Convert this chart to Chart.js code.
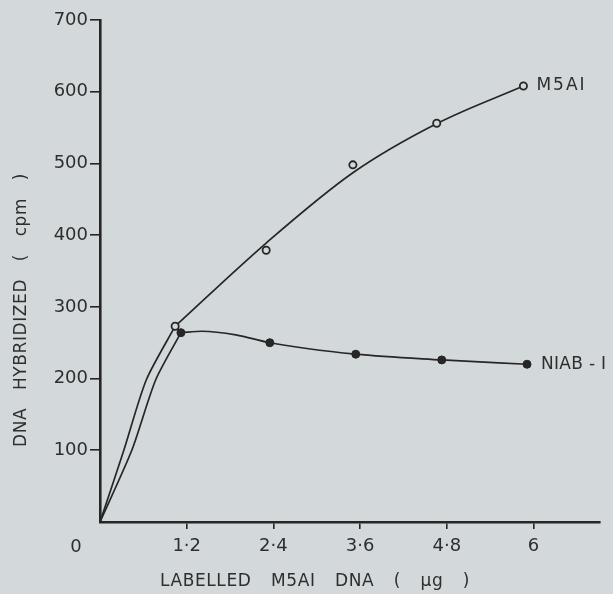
<!DOCTYPE html>
<html>
<head>
<meta charset="utf-8">
<script src="https://cdn.jsdelivr.net/npm/chart.js@4"></script>
<style>
  html, body { margin: 0; padding: 0; background: #d3d9db; }
  #wrap { width: 613px; height: 594px; position: relative; }
</style>
</head>
<body>
<div id="wrap"><canvas id="c" width="613" height="594"></canvas></div>
<script>
// ---- data ----
const xTickValues = [1.2, 2.4, 3.6, 4.8, 6];
const xTickLabels = ['1·2', '2·4', '3·6', '4·8', '6'];
const yTickValues = [100, 200, 300, 400, 500, 600, 700];
const yTickLabels = ['100', '200', '300', '400', '500', '600', '700'];

// measured points
const m5aiX = [1.04, 2.30, 3.50, 4.66, 5.86];
const m5aiY = [273, 379, 498, 556, 608];
const niabX = [1.12, 2.35, 3.54, 4.73, 5.91];
const niabY = [264, 250, 234, 226, 220];

// hand-drawn lines as traced in the picture: initial rise from the origin,
// then the fitted curve through the measured points
const m5aiRiseX = [0, 0.33, 0.64, 1.04];
const m5aiRiseY = [0, 100, 198, 273];
const m5aiCurveX = [1.04, 2.30, 3.50, 4.67, 5.86];
const m5aiCurveY = [273, 389, 487, 556, 608];
const niabRiseX = [0, 0.44, 0.77, 1.12];
const niabRiseY = [0, 100, 198, 264];
const niabCurveX = [1.12, 1.41, 1.88, 2.35, 3.54, 4.73, 5.91];
const niabCurveY = [264, 266, 261, 250, 234, 226, 220];

const seriesNames = ['M5AI', 'NIAB - I'];
const xTitle = 'LABELLED M5AI DNA ( µg )';
const yTitle = 'DNA HYBRIDIZED ( cpm )';
const originLabel = '0';

const ink = '#262626';
const textInk = '#2e2e2e';
const paper = '#d3d9db';
const FONT = '"DejaVu Sans", "Liberation Sans", sans-serif';

const toXY = (xs, ys) => xs.map((x, i) => ({ x: x, y: ys[i] }));

// text with normal letters and wide word gaps, fitted to a target width
function drawWords(ctx, text, x0, cy, targetW, size, ls) {
  ctx.font = size + 'px ' + FONT;
  ctx.letterSpacing = ls + 'px';
  ctx.wordSpacing = '0px';
  const w0 = ctx.measureText(text).width;
  const nSp = (text.match(/ /g) || []).length;
  const ws = nSp ? (targetW - w0) / nSp : 0;
  ctx.wordSpacing = ws + 'px';
  ctx.textAlign = 'left';
  ctx.textBaseline = 'middle';
  ctx.fillText(text, x0, cy);
  ctx.letterSpacing = '0px';
  ctx.wordSpacing = '0px';
}

const decor = {
  id: 'decor',
  beforeDraw(chart) {
    const ctx = chart.ctx;
    ctx.save();
    ctx.fillStyle = paper;
    ctx.fillRect(0, 0, chart.width, chart.height);
    ctx.restore();
  },
  afterDraw(chart) {
    const ctx = chart.ctx;
    const xs = chart.scales.x, ys = chart.scales.y;
    ctx.save();
    ctx.fillStyle = textInk;
    // origin label
    ctx.font = '18px ' + FONT;
    ctx.textAlign = 'center';
    ctx.textBaseline = 'middle';
    ctx.fillText(originLabel, xs.getPixelForValue(0) - 24, ys.getPixelForValue(0) + 25);
    // x title
    drawWords(ctx, xTitle, 160, 582, 310, 17, 0.6);
    // y title (rotated)
    ctx.save();
    ctx.translate(22, 310);
    ctx.rotate(-Math.PI / 2);
    drawWords(ctx, yTitle, -137, 0, 274, 17, 0.6);
    ctx.restore();
    // series labels next to last points
    const lm = m5aiX.length - 1, ln = niabX.length - 1;
    const mx = xs.getPixelForValue(m5aiX[lm]), my = ys.getPixelForValue(m5aiY[lm]);
    ctx.font = '17px ' + FONT;
    ctx.letterSpacing = '2px';
    ctx.textAlign = 'left';
    ctx.textBaseline = 'middle';
    ctx.fillText(seriesNames[0], mx + 13, my);
    const nx = xs.getPixelForValue(niabX[ln]), ny = ys.getPixelForValue(niabY[ln]);
    ctx.letterSpacing = '0.3px';
    ctx.fillText(seriesNames[1], nx + 14, ny);
    ctx.letterSpacing = '0px';
    ctx.restore();
  }
};

const lineDs = (label, xs, ys, mode, tension) => ({
  label: label,
  data: toXY(xs, ys),
  showLine: true,
  pointRadius: 0,
  borderColor: ink,
  borderWidth: 1.7,
  cubicInterpolationMode: mode,
  tension: tension,
  order: 1
});

new Chart(document.getElementById('c'), {
  type: 'scatter',
  data: {
    datasets: [
      {
        label: seriesNames[0] + ' points',
        data: toXY(m5aiX, m5aiY),
        showLine: false,
        pointStyle: 'circle',
        pointRadius: 3.6,
        pointBackgroundColor: paper,
        pointBorderColor: ink,
        pointBorderWidth: 1.8,
        order: 0
      },
      {
        label: seriesNames[1] + ' points',
        data: toXY(niabX, niabY),
        showLine: false,
        pointStyle: 'circle',
        pointRadius: 4,
        pointBackgroundColor: ink,
        pointBorderColor: ink,
        pointBorderWidth: 1,
        order: 0
      },
      lineDs(seriesNames[0] + ' rise', m5aiRiseX, m5aiRiseY, 'default', 0.25),
      lineDs(seriesNames[0], m5aiCurveX, m5aiCurveY, 'monotone', 0.4),
      lineDs(seriesNames[1] + ' rise', niabRiseX, niabRiseY, 'default', 0.25),
      lineDs(seriesNames[1], niabCurveX, niabCurveY, 'monotone', 0.4)
    ]
  },
  options: {
    responsive: false,
    animation: false,
    events: [],
    layout: { padding: { left: 0, right: 13, top: 20, bottom: 0 } },
    plugins: { legend: { display: false }, tooltip: { enabled: false }, title: { display: false } },
    scales: {
      x: {
        type: 'linear',
        min: 0,
        max: 6.92,
        afterBuildTicks(scale) { scale.ticks = xTickValues.map(v => ({ value: v })); },
        afterFit(scale) { scale.height = 72; },
        ticks: {
          callback: (v) => { const i = xTickValues.indexOf(v); return i >= 0 ? xTickLabels[i] : ''; },
          color: textInk,
          font: { family: FONT, size: 18 },
          padding: 7,
          maxRotation: 0,
          autoSkip: false
        },
        grid: { drawOnChartArea: false, drawTicks: true, tickLength: 7, color: ink, lineWidth: 1.6 },
        border: { display: true, color: ink, width: 2.6 },
        title: { display: false }
      },
      y: {
        type: 'linear',
        min: 0,
        max: 700,
        afterBuildTicks(scale) { scale.ticks = yTickValues.map(v => ({ value: v })); },
        afterFit(scale) { scale.width = 100; },
        ticks: {
          callback: (v) => { const i = yTickValues.indexOf(v); return i >= 0 ? yTickLabels[i] : ''; },
          color: textInk,
          font: { family: FONT, size: 18 },
          padding: 2,
          autoSkip: false
        },
        grid: { drawOnChartArea: false, drawTicks: true, tickLength: 10, color: ink, lineWidth: 1.6 },
        border: { display: true, color: ink, width: 2.6 },
        title: { display: false }
      }
    }
  },
  plugins: [decor]
});
</script>
</body>
</html>
